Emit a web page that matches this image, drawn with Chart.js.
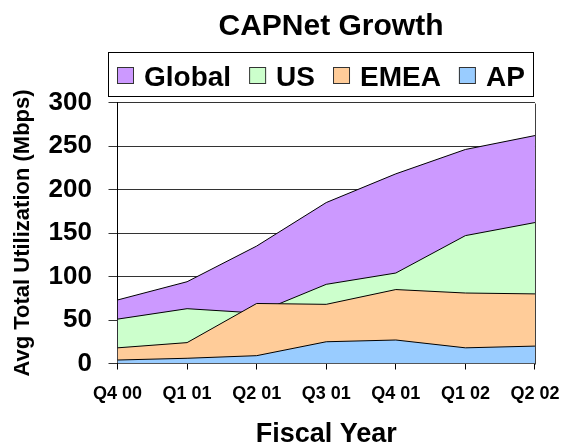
<!DOCTYPE html>
<html>
<head>
<meta charset="utf-8">
<script src="https://cdn.jsdelivr.net/npm/chart.js@4"></script>
<style>
  html, body { margin: 0; padding: 0; background: #fff; }
  #wrap { width: 573px; height: 447px; }
</style>
</head>
<body>
<div id="wrap"><canvas id="c" width="573" height="447"></canvas></div>
<script>
// ---- data ----
const categories = ['Q4 00', 'Q1 01', 'Q2 01', 'Q3 01', 'Q4 01', 'Q1 02', 'Q2 02'];
const seriesNames = ['Global', 'US', 'EMEA', 'AP'];
const globalValues = [73, 94, 135, 185, 218, 246, 262];
const usValues     = [51, 63, 58, 91, 104, 147, 162];
const emeaValues   = [18, 24, 69, 68, 85, 81, 80];
const apValues     = [4, 6, 9, 25, 27, 18, 20];
const yTicks = [0, 50, 100, 150, 200, 250, 300];
const titleText = 'CAPNet Growth';
const xTitle = 'Fiscal Year';
const yTitle = 'Avg Total Utilization (Mbps)';

const colors = ['#CC99FF', '#CCFFCC', '#FFCC99', '#99CCFF'];
const seriesValues = [globalValues, usValues, emeaValues, apValues];
const FONT = '"Liberation Sans", Arial, sans-serif';

const datasets = seriesNames.map((name, i) => ({
  label: name,
  data: seriesValues[i],
  backgroundColor: colors[i],
  borderColor: '#000',
  borderWidth: 1,
  fill: 'origin',
  pointRadius: 0,
  pointHoverRadius: 0,
  tension: 0,
  order: seriesNames.length - i   // Global drawn first (back), AP last (front)
}));

// title, legend box and plot frame
const decor = {
  id: 'decor',
  afterDatasetsDraw(chart) {
    const { ctx, chartArea } = chart;
    ctx.save();
    ctx.strokeStyle = '#404040';
    ctx.lineWidth = 1;
    ctx.beginPath();
    ctx.moveTo(Math.round(chartArea.right) + 0.5, Math.round(chartArea.top) + 0.5);
    ctx.lineTo(Math.round(chartArea.right) + 0.5, Math.round(chartArea.bottom) + 0.5);
    ctx.stroke();
    ctx.restore();
  },
  afterDraw(chart) {
    const { ctx } = chart;
    ctx.save();
    // title
    ctx.fillStyle = '#000';
    ctx.font = 'bold 30px ' + FONT;
    ctx.textAlign = 'center';
    ctx.textBaseline = 'alphabetic';
    ctx.fillText(titleText, 331, 35);

    // legend
    const bx = 108.5, by = 52.5, bw = 425, bh = 44;
    ctx.strokeStyle = '#000';
    ctx.lineWidth = 1;
    ctx.strokeRect(bx, by, bw, bh);
    ctx.font = 'bold 28px ' + FONT;
    ctx.textAlign = 'left';
    const sw = 17, gapText = 10, gapItem = 18;
    const widths = chart.data.datasets.map(d => sw + gapText + ctx.measureText(d.label).width);
    const total = widths.reduce((a, b) => a + b, 0) + gapItem * (widths.length - 1);
    let x = Math.round(bx + bw / 2 - total / 2);
    const baseY = 85.5;
    chart.data.datasets.forEach((d, i) => {
      ctx.fillStyle = d.backgroundColor;
      ctx.fillRect(x, 67, sw, sw);
      ctx.strokeStyle = '#333';
      ctx.strokeRect(x + 0.5, 67.5, sw - 1, sw - 1);
      ctx.fillStyle = '#000';
      ctx.fillText(d.label, x + sw + gapText, baseY);
      x += widths[i] + gapItem;
    });
    ctx.restore();
  }
};

new Chart(document.getElementById('c'), {
  type: 'line',
  data: { labels: categories, datasets },
  plugins: [decor],
  options: {
    responsive: false,
    animation: false,
    layout: { padding: { top: 102.5, right: 29, bottom: 0, left: 0 } },
    plugins: {
      legend: { display: false },
      title: { display: false },
      tooltip: { enabled: false }
    },
    scales: {
      x: {
        type: 'category',
        offset: false,
        afterFit(scale) { scale.height = 83.5; },
        border: { display: true, color: '#000', width: 1 },
        grid: { drawOnChartArea: false, drawTicks: true, tickLength: 6, color: '#000' },
        ticks: {
          color: '#000', padding: 13.5, maxRotation: 0, autoSkip: false,
          font: { family: FONT, size: 18, weight: 'bold' }
        },
        title: {
          display: true, text: xTitle, color: '#000',
          padding: { top: 0, bottom: 0 },
          font: { family: FONT, size: 27, weight: 'bold', lineHeight: 0.9 }
        }
      },
      y: {
        min: 0, max: 300,
        afterFit(scale) { scale.width = 117.5; },
        afterBuildTicks(scale) { scale.ticks = yTicks.map(v => ({ value: v })); },
        border: { display: true, color: '#000', width: 1 },
        grid: { drawOnChartArea: true, drawTicks: true, tickLength: 9, color: '#333' },
        ticks: {
          color: '#000', padding: 16.5,
          font: { family: FONT, size: 26, weight: 'bold' }
        },
        title: {
          display: true, text: yTitle, color: '#000',
          padding: { top: 12, bottom: 0 },
          font: { family: FONT, size: 22, weight: 'bold', lineHeight: 1 }
        }
      }
    }
  }
});
</script>
</body>
</html>
